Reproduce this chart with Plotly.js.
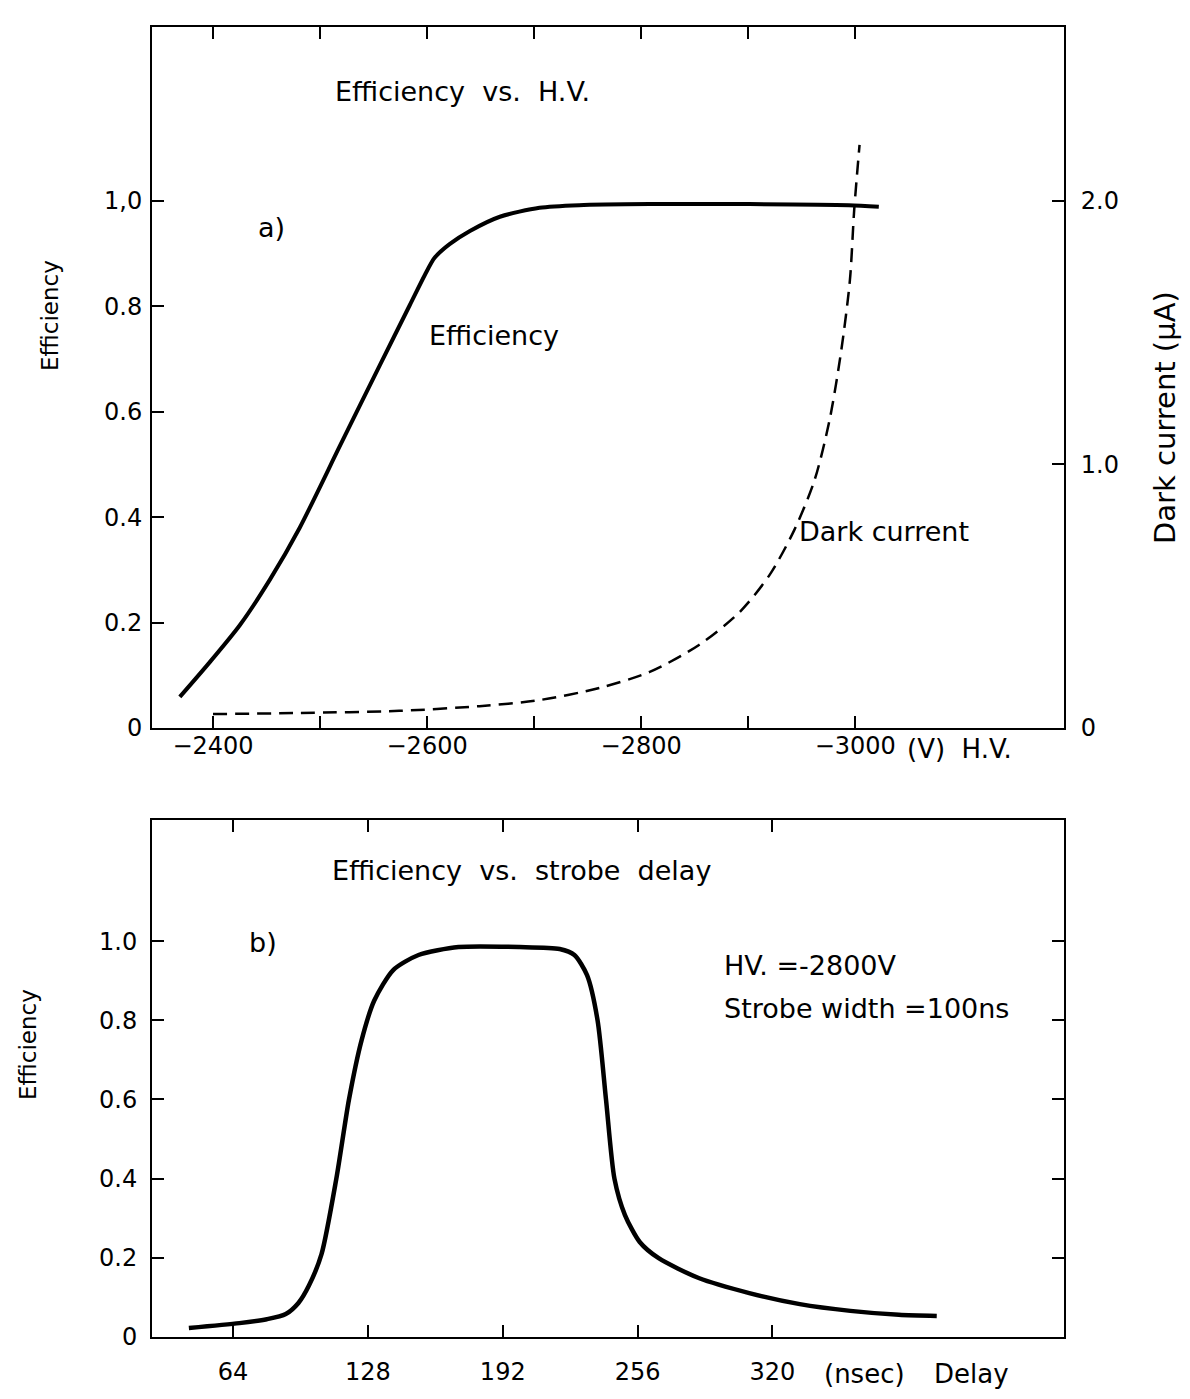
<!DOCTYPE html>
<html>
<head>
<meta charset="utf-8">
<script src="https://cdn.plot.ly/plotly-3.0.1.min.js"></script>
<style>
html,body{margin:0;padding:0;background:#fff;}
#chart{width:1190px;height:1399px;}
</style>
</head>
<body>
<div id="chart"></div>
<script>
// ---- Panel a) Efficiency vs. H.V. ----
const hvVolt = [-2369, -2397, -2425, -2453, -2481, -2519, -2556, -2584, -2598, -2607, -2621, -2640, -2668, -2705, -2742, -2808, -2901, -2994, -3022];
const hvEff  = [0.059, 0.125, 0.195, 0.281, 0.380, 0.537, 0.689, 0.803, 0.860, 0.892, 0.918, 0.943, 0.970, 0.987, 0.992, 0.994, 0.994, 0.992, 0.989];

const darkVolt = [-2400, -2481, -2574, -2649, -2705, -2761, -2808, -2854, -2892, -2920, -2943, -2962, -2976, -2987, -2995, -2999, -3004];
const darkCur  = [0.053, 0.057, 0.065, 0.083, 0.106, 0.152, 0.213, 0.315, 0.440, 0.581, 0.751, 0.941, 1.169, 1.435, 1.700, 1.966, 2.213];

const hvTickVals = [-2400, -2500, -2600, -2700, -2800, -2900, -3000];
const hvTickText = ['\u22122400', '', '\u22122600', '', '\u22122800', '', '\u22123000'];
const effTickValsA = [0, 0.2, 0.4, 0.6, 0.8, 1.0];
const effTickTextA = ['0', '0.2', '0.4', '0.6', '0.8', '1,0'];
const darkTickVals = [0, 1.0, 2.0];
const darkTickText = ['0', '1.0', '2.0'];

// ---- Panel b) Efficiency vs. strobe delay ----
const delayNs  = [43, 67, 80, 89, 95, 100, 106, 113, 119, 125, 131, 140, 152, 171, 200, 219, 226, 232, 237, 241, 245, 250, 257, 266, 285, 309, 333, 357, 380, 398];
const delayEff = [0.023, 0.035, 0.045, 0.058, 0.086, 0.13, 0.21, 0.40, 0.60, 0.75, 0.85, 0.927, 0.965, 0.985, 0.985, 0.98, 0.965, 0.914, 0.80, 0.60, 0.40, 0.308, 0.240, 0.199, 0.149, 0.111, 0.083, 0.066, 0.056, 0.053];

const delayTickVals = [64, 128, 192, 256, 320];
const delayTickText = ['64', '128', '192', '256', '320'];
const effTickValsB = [0, 0.2, 0.4, 0.6, 0.8, 1.0];
const effTickTextB = ['0', '0.2', '0.4', '0.6', '0.8', '1.0'];

// ---- layout helpers (page pixels -> paper fraction) ----
const W = 1190, H = 1399;
const fx = x => x / W;
const fy = y => 1 - y / H;
const FONT = 'DejaVu Sans, sans-serif';
const tickFont = {family: FONT, size: 24, color: '#000'};
const SP = '\u00a0 ';

const traces = [
  {x: hvVolt, y: hvEff, xaxis: 'x', yaxis: 'y', mode: 'lines',
   line: {color: '#000', width: 4, shape: 'spline', smoothing: 0.7}, hoverinfo: 'skip'},
  {x: darkVolt, y: darkCur, xaxis: 'x', yaxis: 'y2', mode: 'lines',
   line: {color: '#000', width: 2.5, dash: '14px,8px', shape: 'spline', smoothing: 0.8}, hoverinfo: 'skip'},
  {x: delayNs, y: delayEff, xaxis: 'x2', yaxis: 'y3', mode: 'lines',
   line: {color: '#000', width: 4.5, shape: 'spline', smoothing: 0.7}, hoverinfo: 'skip'}
];

const axisCommon = {
  showline: true, linecolor: '#000', linewidth: 2,
  ticks: 'inside', ticklen: 12, tickwidth: 2, tickcolor: '#000',
  showgrid: false, zeroline: false, tickfont: tickFont, automargin: false,
  fixedrange: true
};

function ann(text, x, y, opts) {
  return Object.assign({
    text: text, x: fx(x), y: fy(y), xref: 'paper', yref: 'paper',
    showarrow: false, xanchor: 'left', yanchor: 'middle',
    font: {family: FONT, size: 27, color: '#000'}
  }, opts || {});
}

const layout = {
  width: W, height: H,
  margin: {l: 0, r: 0, t: 0, b: 0},
  paper_bgcolor: '#fff', plot_bgcolor: '#fff',
  showlegend: false,
  xaxis: Object.assign({}, axisCommon, {
    domain: [fx(152), fx(1064)], anchor: 'y',
    range: [-2343, -3195], tickmode: 'array',
    tickvals: hvTickVals, ticktext: hvTickText, mirror: 'ticks', ticklabelstandoff: -5
  }),
  yaxis: Object.assign({}, axisCommon, {
    domain: [fy(728), fy(27)], anchor: 'x',
    range: [0, 1.33], tickmode: 'array',
    tickvals: effTickValsA, ticktext: effTickTextA, ticklabelstandoff: 3
  }),
  yaxis2: Object.assign({}, axisCommon, {
    overlaying: 'y', side: 'right', anchor: 'x',
    range: [0, 2.66], tickmode: 'array',
    tickvals: darkTickVals, ticktext: darkTickText, ticklabelstandoff: 10
  }),
  xaxis2: Object.assign({}, axisCommon, {
    domain: [fx(152), fx(1064)], anchor: 'y3',
    range: [25.5, 458.4], tickmode: 'array',
    tickvals: delayTickVals, ticktext: delayTickText, mirror: 'ticks', ticklabelstandoff: 12
  }),
  yaxis3: Object.assign({}, axisCommon, {
    domain: [fy(1337), fy(820)], anchor: 'x2',
    range: [0, 1.306], tickmode: 'array',
    tickvals: effTickValsB, ticktext: effTickTextB, mirror: 'ticks', ticklabelstandoff: 8
  }),
  annotations: [
    ann('Efficiency' + SP + 'vs.' + SP + 'H.V.', 333, 92),
    ann('a)', 256, 228),
    ann('Efficiency', 427, 335),
    ann('Dark current', 797, 531),
    ann('(V)' + SP + 'H.V.', 905, 749, {font: {family: FONT, size: 26, color: '#000'}}),
    ann('Efficiency', 50, 316, {xanchor: 'center', textangle: -90, font: {family: FONT, size: 23, color: '#000'}}),
    ann('Dark current (μA)', 1165, 418, {xanchor: 'center', textangle: -90, font: {family: FONT, size: 29, color: '#000'}}),
    ann('Efficiency' + SP + 'vs.' + SP + 'strobe' + SP + 'delay', 330, 870),
    ann('b)', 247, 942),
    ann('HV. =-2800V', 722, 966),
    ann('Strobe width =100ns', 722, 1008),
    ann('(nsec)', 822, 1374, {font: {family: FONT, size: 26, color: '#000'}}),
    ann('Delay', 932, 1374, {font: {family: FONT, size: 26, color: '#000'}}),
    ann('Efficiency', 28, 1045, {xanchor: 'center', textangle: -90, font: {family: FONT, size: 23, color: '#000'}})
  ]
};

Plotly.newPlot('chart', traces, layout, {displayModeBar: false, staticPlot: true});
</script>
</body>
</html>
